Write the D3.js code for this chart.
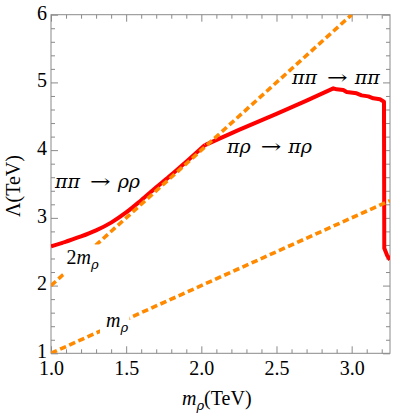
<!DOCTYPE html>
<html><head><meta charset="utf-8">
<script src="https://cdn.jsdelivr.net/npm/d3@7"></script>
<style>
body{margin:0;background:#fff;}
svg{display:block;font-family:"Liberation Serif","Times New Roman",Times,serif;}
</style></head>
<body><svg id="c" width="396" height="415"></svg>
<script>
// ---- data ----
const xMajorTicks = [1.0, 1.5, 2.0, 2.5, 3.0];
const xTickLabels = ["1.0", "1.5", "2.0", "2.5", "3.0"];
const yMajorTicks = [1, 2, 3, 4, 5, 6];
const yTickLabels = ["1", "2", "3", "4", "5", "6"];
const xDomain = [1.0, 3.255];
const yDomain = [1, 6];

// red bound: smooth branch (ππ→ρρ) up to the kink
const redSmoothX = [1.0, 1.1, 1.2, 1.3, 1.4, 1.5, 1.6, 1.7, 1.8, 1.9, 2.024];
const redSmoothY = [2.58, 2.65, 2.725, 2.815, 2.93, 3.08, 3.26, 3.45, 3.635, 3.83, 4.075];
// red bound: πρ→πρ, ππ→ππ branches and the drop
const redUpperX = [2.024, 2.25, 2.5, 2.7, 2.878, 2.9, 2.944, 2.967, 3.033, 3.066, 3.111, 3.144, 3.188, 3.215, 3.217, 3.235, 3.255];
const redUpperY = [4.075, 4.3, 4.535, 4.73, 4.913, 4.898, 4.888, 4.858, 4.839, 4.809, 4.794, 4.765, 4.75, 4.715, 2.55, 2.45, 2.38];

// reference lines Lambda = 2 m_rho, Lambda = m_rho
const line2mX = [1.0, 3.0];
const line2mY = [2.0, 6.0];
const line1mX = [1.0, 3.255];
const line1mY = [1.0, 3.255];

// ---- layout ----
const FONT = "'Liberation Serif','Times New Roman',Times,serif";
const GREEK = "'DejaVu Serif',serif";
const svg = d3.select("#c");
const L = 51, R = 390, T = 14.7, B = 353.3;
const x = d3.scaleLinear().domain(xDomain).range([L, R]);
const y = d3.scaleLinear().domain(yDomain).range([B, T]);
const frameColor = "#8a8a8a";
const xMinor = d3.range(1.0, 3.2501, 0.1).filter(v => !xMajorTicks.some(m => Math.abs(m - v) < 1e-6));
const yMinor = d3.range(1, 6.0001, 0.2).filter(v => !yMajorTicks.some(m => Math.abs(m - v) < 1e-6));

svg.append("defs").append("clipPath").attr("id", "clip")
  .append("rect").attr("x", L).attr("y", T).attr("width", R - L).attr("height", B - T);

function styleAxis(g) {
  g.attr("font-family", FONT).attr("font-size", 20);
  g.select(".domain").remove();
  g.selectAll(".tick line").attr("stroke", frameColor).attr("stroke-width", 1);
  g.selectAll(".tick text").attr("fill", "#000").style("font-size", "20px").style("font-family", FONT);
}
// bottom
svg.append("g").attr("transform", `translate(0,${B})`)
  .call(d3.axisBottom(x).tickValues(xMajorTicks).tickSize(-7).tickPadding(7.5)
    .tickFormat((d, i) => xTickLabels[i])).call(styleAxis);
svg.append("g").attr("transform", `translate(0,${B})`)
  .call(d3.axisBottom(x).tickValues(xMinor).tickSize(-4).tickFormat("")).call(styleAxis);
// top
svg.append("g").attr("transform", `translate(0,${T})`)
  .call(d3.axisTop(x).tickValues(xMajorTicks).tickSize(-7).tickFormat("")).call(styleAxis);
svg.append("g").attr("transform", `translate(0,${T})`)
  .call(d3.axisTop(x).tickValues(xMinor).tickSize(-4).tickFormat("")).call(styleAxis);
// left
const yAx = svg.append("g").attr("transform", `translate(${L},0)`)
  .call(d3.axisLeft(y).tickValues(yMajorTicks).tickSize(-7).tickPadding(4)
    .tickFormat((d, i) => yTickLabels[i])).call(styleAxis);
yAx.selectAll(".tick text").attr("dy", "0.22em");
svg.append("g").attr("transform", `translate(${L},0)`)
  .call(d3.axisLeft(y).tickValues(yMinor).tickSize(-4).tickFormat("")).call(styleAxis);
// right
svg.append("g").attr("transform", `translate(${R},0)`)
  .call(d3.axisRight(y).tickValues(yMajorTicks).tickSize(-7).tickFormat("")).call(styleAxis);
svg.append("g").attr("transform", `translate(${R},0)`)
  .call(d3.axisRight(y).tickValues(yMinor).tickSize(-4).tickFormat("")).call(styleAxis);

// frame
svg.append("rect").attr("x", L).attr("y", T).attr("width", R - L).attr("height", B - T)
  .attr("fill", "none").attr("stroke", frameColor).attr("stroke-width", 1);

const plot = svg.append("g").attr("clip-path", "url(#clip)");
const lineLin = d3.line().x(d => x(d[0])).y(d => y(d[1]));
const lineSmooth = d3.line().x(d => x(d[0])).y(d => y(d[1])).curve(d3.curveMonotoneX);

// red curve
const redStyle = p => p.attr("fill", "none").attr("stroke", "#ff0000")
  .attr("stroke-width", 4).attr("stroke-linejoin", "round");
plot.append("path").datum(redSmoothX.map((v, i) => [v, redSmoothY[i]]))
  .attr("d", lineSmooth).call(redStyle);
plot.append("path").datum(redUpperX.map((v, i) => [v, redUpperY[i]]))
  .attr("d", lineLin).call(redStyle);

// orange dashed lines
[[line2mX, line2mY], [line1mX, line1mY]].forEach(([xs, ys]) => {
  plot.append("path").datum(xs.map((v, i) => [v, ys[i]]))
    .attr("d", lineLin).attr("fill", "none").attr("stroke", "#ff8a00")
    .attr("stroke-width", 3.6).attr("stroke-dasharray", "6.5,3.5");
});

// labels with white background
function mathLabel(px, py, parts, bg) {
  const g = svg.append("g");
  const r = g.append("rect").attr("fill", "#fff");
  const t = g.append("text").attr("x", px).attr("y", py).style("font-size", "20px").style("font-family", FONT);
  parts.forEach(p => {
    const s = t.append("tspan").text(p.t);
    if (p.i) s.attr("font-style", "italic");
    if (p.sub) s.style("font-size", "13px").style("font-family", GREEK).attr("dy", 5);
  });
  const b = t.node().getBBox();
  r.attr("x", b.x - bg[0]).attr("y", b.y - bg[1])
    .attr("width", b.width + bg[0] + bg[2]).attr("height", b.height + bg[1] + bg[3]);
}
mathLabel(66.5, 263.5, [{t: "2"}, {t: "m", i: true}, {t: "ρ", i: true, sub: true}], [3, 1, 1, 4]);
mathLabel(106, 327, [{t: "m", i: true}, {t: "ρ", i: true, sub: true}], [6, 2, 1, 3]);

function reaction(px, py, a, b) {
  const g = svg.append("g");
  const t1 = g.append("text").attr("x", px).attr("y", py).attr("font-style", "italic")
    .style("font-size", "19px").style("font-family", GREEK).text(a);
  const w1 = t1.node().getComputedTextLength();
  const ax = px + w1 + 10;
  const arr = g.append("text").attr("transform", `translate(${ax},${py}) scale(1.3,1)`)
    .style("font-size", "19px").style("font-family", GREEK).text("→");
  const wa = arr.node().getComputedTextLength() * 1.3;
  g.append("text").attr("x", ax + wa + 7).attr("y", py).attr("font-style", "italic")
    .style("font-size", "19px").style("font-family", GREEK).text(b);
}
reaction(55, 187.5, "ππ", "ρρ");
reaction(227, 153, "πρ", "πρ");
reaction(292, 83.5, "ππ", "ππ");

// axis titles
const xt = svg.append("text").attr("x", 182).attr("y", 405).style("font-size", "20px").style("font-family", FONT);
xt.append("tspan").attr("font-style", "italic").text("m");
xt.append("tspan").attr("font-style", "italic").style("font-size", "13px").style("font-family", GREEK).attr("dy", 5).text("ρ");
xt.append("tspan").attr("dy", -5).text("(TeV)");

svg.append("text").attr("transform", "translate(20,186) rotate(-90)")
  .attr("text-anchor", "middle").style("font-size", "20px").style("font-family", FONT).text("Λ(TeV)");
</script></body></html>
